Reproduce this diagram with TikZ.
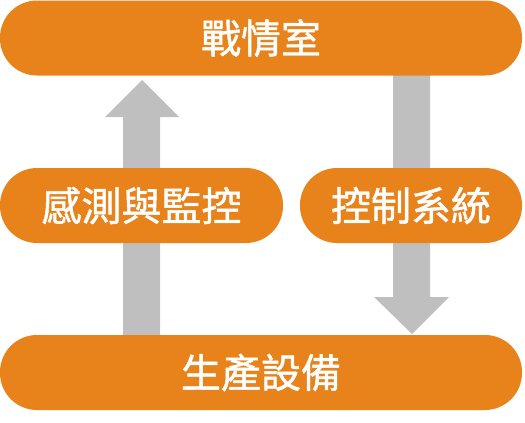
\documentclass[tikz,border=0pt]{standalone}
\usepackage{fontspec}
\newfontfamily\cjk{Noto Sans CJK TC}[FakeBold=1.2]
\definecolor{barorange}{HTML}{E8821A}
\definecolor{arrowgray}{HTML}{BFBFBF}
\begin{document}
\begin{tikzpicture}[x=1pt,y=-1pt,
  pill/.style={fill=barorange, rounded corners=37pt, minimum height=75pt, inner sep=0pt,
    text=white, font=\cjk\fontsize{40}{40}\selectfont, anchor=center},
  blockarrow/.style={fill=arrowgray}]
\useasboundingbox (0,0) rectangle (525,423);
% block arrows (drawn first so pills overlay)
\fill[blockarrow] (123,336) -- (123,117) -- (105,117) -- (142,80) -- (179,117) -- (160,117) -- (160,336) -- cycle;
\fill[blockarrow] (393,74) -- (393,297) -- (374,297) -- (412,334) -- (449,297) -- (430,297) -- (430,74) -- cycle;
% bars
\node[pill, minimum width=522pt] (top) at (261,38) {戰情室};
\node[pill, minimum width=283pt] (sense) at (141.5,205.5) {感測與監控};
\node[pill, minimum width=222pt] (ctrl) at (411,205.5) {控制系統};
\node[pill, minimum width=522pt] (prod) at (261,372.5) {生產設備};
\end{tikzpicture}
\end{document}
